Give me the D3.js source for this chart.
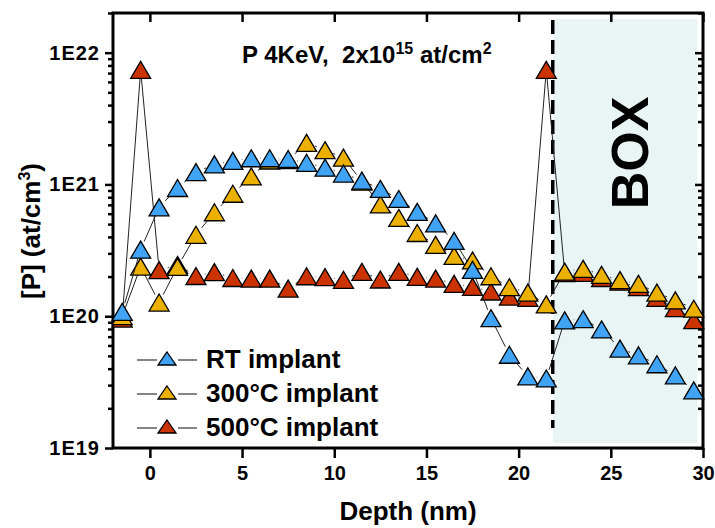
<!DOCTYPE html>
<html>
<head>
<meta charset="utf-8">
<script src="https://cdn.jsdelivr.net/npm/d3@7"></script>
<style>
  html, body { margin: 0; padding: 0; background: #fff; }
  svg { display: block; font-family: "Liberation Sans", Arial, sans-serif; font-weight: bold; }
</style>
</head>
<body>
<svg id="chart" width="715" height="528"></svg>
<script>
// ---- data ----
const depth = [-1.5, -0.5, 0.5, 1.5, 2.5, 3.5, 4.5, 5.5, 6.5, 7.5, 8.5, 9.5, 10.5, 11.5, 12.5, 13.5,
               14.5, 15.5, 16.5, 17.5, 18.5, 19.5, 20.5, 21.5, 22.5, 23.5, 24.5, 25.5, 26.5, 27.5, 28.5, 29.5];
const rtImplant = [1.08e20, 3.2e20, 6.7e20, 9.4e20, 1.24e21, 1.42e21, 1.51e21, 1.58e21, 1.58e21, 1.56e21,
                   1.46e21, 1.34e21, 1.21e21, 1.07e21, 9.25e20, 7.76e20, 6.2e20, 5.07e20, 3.73e20, 2.25e20,
                   9.66e19, 5.1e19, 3.5e19, 3.37e19, 9.3e19, 9.5e19, 7.94e19, 5.68e19, 5.05e19, 4.32e19,
                   3.56e19, 2.74e19];
const implant300 = [1.0e20, 2.38e20, 1.27e20, 2.37e20, 4.15e20, 6.15e20, 8.5e20, 1.15e21, 1.52e21, 1.53e21,
                    2.07e21, 1.82e21, 1.6e21, 1.05e21, 7.05e20, 5.57e20, 4.28e20, 3.48e20, 2.87e20, 2.65e20,
                    2.01e20, 1.66e20, 1.51e20, 1.23e20, 2.18e20, 2.29e20, 2.06e20, 1.88e20, 1.76e20, 1.51e20,
                    1.32e20, 1.14e20];
const implant500 = [9.6e19, 7.4e21, 2.24e20, 2.45e20, 2.02e20, 2.16e20, 1.95e20, 1.93e20, 1.93e20, 1.62e20,
                    2.01e20, 1.98e20, 1.89e20, 2.17e20, 1.9e20, 2.17e20, 1.99e20, 1.93e20, 1.76e20, 1.67e20,
                    1.54e20, 1.41e20, 1.38e20, 7.4e21, 2.12e20, 2.13e20, 1.95e20, 1.83e20, 1.66e20, 1.38e20,
                    1.15e20, 9.35e19];
const seriesNames = ["RT implant", "300°C implant", "500°C implant"];
const seriesColors = ["#40a3f3", "#ebb000", "#cb3300"];
const xTicks = [0, 5, 10, 15, 20, 25, 30];
const yTicks = [1e19, 1e20, 1e21, 1e22];
const boxRange = [21.85, 29.7];   // BOX (buried oxide) region in nm
const xDomain = [-2, 30];
const yDomain = [1e19, 2e22];

// ---- layout ----
const svg = d3.select("#chart");
const L = 113, R = 703, T = 13, B = 448;
const x = d3.scaleLinear().domain(xDomain).range([L, R]);
const y = d3.scaleLog().domain(yDomain).range([B, T]);

// BOX shading
svg.append("rect")
  .attr("x", x(boxRange[0])).attr("y", T + 6)
  .attr("width", x(boxRange[1]) - x(boxRange[0])).attr("height", B - T - 11)
  .attr("fill", "#e9f5f5");

// minor log ticks
const minor = [];
for (let e = 19; e < 23; e++) for (let m = 2; m <= 9; m++) { const v = m * Math.pow(10, e); if (v <= yDomain[1]) minor.push(v); }

const fmtE = d => "1E" + Math.round(Math.log10(d));

svg.append("g").attr("class", "yax").attr("transform", `translate(${L},0)`)
  .call(d3.axisLeft(y).tickValues(yTicks).tickFormat(fmtE).tickSize(8).tickPadding(4));
svg.append("g").attr("transform", `translate(${L},0)`)
  .call(d3.axisLeft(y).tickValues(minor).tickFormat("").tickSize(5));
svg.append("g").attr("transform", `translate(${R},0)`)
  .call(d3.axisRight(y).tickValues(yTicks).tickFormat("").tickSize(-8));
svg.append("g").attr("transform", `translate(${R},0)`)
  .call(d3.axisRight(y).tickValues(minor).tickFormat("").tickSize(-5));
svg.append("g").attr("transform", `translate(0,${B})`)
  .call(d3.axisBottom(x).tickValues(xTicks).tickFormat(d3.format("d")).tickSize(10).tickPadding(8));
svg.append("g").attr("transform", `translate(0,${T})`)
  .call(d3.axisTop(x).tickValues(xTicks).tickFormat("").tickSize(-9));

svg.selectAll(".domain").remove();
svg.selectAll(".tick line").attr("stroke", "#000").attr("stroke-width", 2.5);
svg.selectAll(".tick text").attr("fill", "#000").attr("font-size", 20).attr("font-weight", "bold")
  .attr("font-family", "'Liberation Sans', Arial, sans-serif");
svg.selectAll(".yax .tick text").attr("letter-spacing", "1px").attr("x", -13);

// frame
svg.append("rect").attr("x", L).attr("y", T).attr("width", R - L).attr("height", B - T)
  .attr("fill", "none").attr("stroke", "#000").attr("stroke-width", 3);

// dashed interface line
svg.append("line")
  .attr("x1", x(boxRange[0])).attr("x2", x(boxRange[0]))
  .attr("y1", T + 7).attr("y2", B - 20)
  .attr("stroke", "#000").attr("stroke-width", 3.5).attr("stroke-dasharray", "14,6");

// BOX label
svg.append("text").attr("transform", "translate(648,153) rotate(-90)")
  .attr("text-anchor", "middle").attr("font-size", 52).attr("fill", "#000").text("BOX");

// ---- series ----
const triPath = "M0,-8.5 L10,8.5 L-10,8.5 Z";
const seriesData = [rtImplant, implant300, implant500];
const gap = 9;
const order = [2, 1, 0];
order.forEach(si => {
  const vals = seriesData[si];
  const pts = depth.map((d, i) => [x(d), y(vals[i])]);
  const g = svg.append("g");
  for (let i = 0; i < pts.length - 1; i++) {
    const [x0, y0] = pts[i], [x1, y1] = pts[i + 1];
    const dx = x1 - x0, dy = y1 - y0, len = Math.hypot(dx, dy);
    if (len <= 2 * gap) continue;
    const ux = dx / len, uy = dy / len;
    g.append("line")
      .attr("x1", x0 + ux * gap).attr("y1", y0 + uy * gap)
      .attr("x2", x1 - ux * gap).attr("y2", y1 - uy * gap)
      .attr("stroke", "#222").attr("stroke-width", 1);
  }
  g.selectAll("path.m").data(pts).join("path").attr("class", "m")
    .attr("d", triPath)
    .attr("transform", p => `translate(${p[0]},${p[1]})`)
    .attr("fill", seriesColors[si]).attr("stroke", "#000").attr("stroke-width", 1.3)
    .attr("stroke-linejoin", "miter");
});

// ---- legend ----
const leg = svg.append("g");
seriesNames.forEach((name, i) => {
  const cy = 360 + i * 34;
  leg.append("line").attr("x1", 137).attr("x2", 157).attr("y1", cy).attr("y2", cy)
    .attr("stroke", "#333").attr("stroke-width", 1.2);
  leg.append("line").attr("x1", 178).attr("x2", 197).attr("y1", cy).attr("y2", cy)
    .attr("stroke", "#333").attr("stroke-width", 1.2);
  leg.append("path").attr("d", "M0,-7 L9,6 L-9,6 Z").attr("transform", `translate(167,${cy - 1})`)
    .attr("fill", seriesColors[i]).attr("stroke", "#000").attr("stroke-width", 1.3);
  leg.append("text").attr("x", 206).attr("y", cy + 7.5).attr("font-size", 26).attr("fill", "#000").text(name);
});

// ---- title ----
const title = svg.append("text").attr("x", 242).attr("y", 63).attr("font-size", 24).attr("fill", "#000")
  .attr("xml:space", "preserve").style("white-space", "pre");
title.append("tspan").text("P 4KeV,  2x10");
title.append("tspan").attr("font-size", 16).attr("dy", -9).text("15");
title.append("tspan").attr("dy", 9).text(" at/cm");
title.append("tspan").attr("font-size", 16).attr("dy", -9).text("2");

// ---- axis titles ----
svg.append("text").attr("x", 408).attr("y", 520).attr("text-anchor", "middle")
  .attr("font-size", 26).attr("fill", "#000").text("Depth (nm)");
const yl = svg.append("text").attr("transform", "translate(40,231) rotate(-90)")
  .attr("text-anchor", "middle").attr("font-size", 26).attr("fill", "#000");
yl.append("tspan").text("[P] (at/cm");
yl.append("tspan").attr("font-size", 16).attr("dy", -10).text("3");
yl.append("tspan").attr("dy", 10).text(")");
</script>
</body>
</html>
